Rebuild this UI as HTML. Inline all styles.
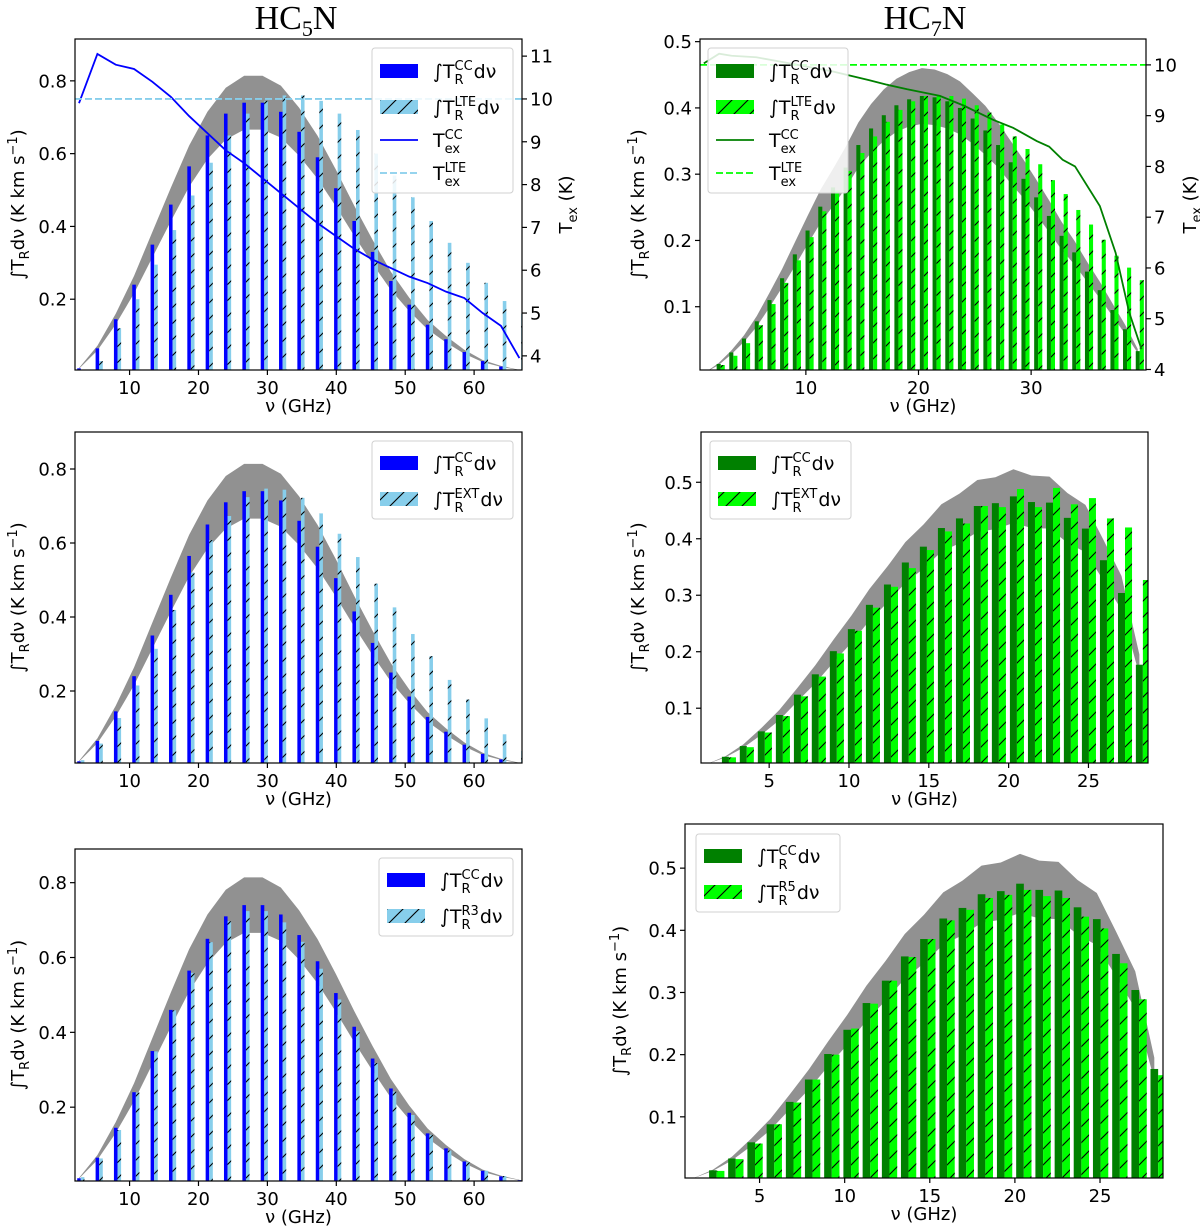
<!DOCTYPE html>
<html><head><meta charset="utf-8"><style>
html,body{margin:0;padding:0;background:#fff;}
svg{display:block;font-family:"DejaVu Sans","Liberation Sans",sans-serif;}
</style></head><body>
<svg id="fig" width="1200" height="1227" viewBox="0 0 1200 1227" xmlns="http://www.w3.org/2000/svg">
<defs>
<pattern id="hatch" patternUnits="userSpaceOnUse" width="16" height="16">
<line x1="0" y1="16" x2="16" y2="0" stroke="#000" stroke-width="1.1"/>
<line x1="-3" y1="3" x2="3" y2="-3" stroke="#000" stroke-width="1.1"/>
<line x1="13" y1="19" x2="19" y2="13" stroke="#000" stroke-width="1.1"/>
</pattern>
</defs>
<text x="296" y="29" text-anchor="middle" font-family="Liberation Serif, serif" font-size="34">HC<tspan font-size="22" dy="7">5</tspan><tspan dy="-7">N</tspan></text>
<text x="925" y="29" text-anchor="middle" font-family="Liberation Serif, serif" font-size="34">HC<tspan font-size="22" dy="7">7</tspan><tspan dy="-7">N</tspan></text>
</svg>
<script>
// ---------- data ----------
const freq5 = [2.66,5.33,7.99,10.65,13.31,15.98,18.64,21.30,23.96,26.63,29.29,31.95,34.61,37.28,39.94,42.60,45.27,47.93,50.59,53.25,55.92,58.58,61.24,63.90,66.57];
const cc5 = [0.01,0.065,0.145,0.24,0.35,0.46,0.565,0.65,0.71,0.74,0.74,0.715,0.66,0.59,0.505,0.415,0.33,0.25,0.185,0.13,0.09,0.055,0.03,0.015,0.005];
const upper5 = [0.011,0.072,0.16,0.264,0.385,0.506,0.622,0.715,0.781,0.814,0.814,0.787,0.726,0.649,0.556,0.457,0.363,0.275,0.204,0.143,0.099,0.061,0.033,0.017,0.006];
const lower5 = [0.009,0.059,0.131,0.216,0.315,0.414,0.509,0.585,0.639,0.666,0.666,0.644,0.594,0.531,0.455,0.374,0.297,0.225,0.167,0.117,0.081,0.05,0.027,0.014,0.005];
const lte5 = [0.005,0.03,0.12,0.2,0.295,0.39,0.485,0.575,0.65,0.71,0.745,0.76,0.76,0.745,0.71,0.665,0.6,0.54,0.48,0.415,0.355,0.3,0.245,0.195,0.16];
const ext5 = [0.013,0.058,0.127,0.215,0.314,0.419,0.52,0.608,0.673,0.724,0.747,0.744,0.722,0.68,0.625,0.562,0.49,0.426,0.354,0.294,0.23,0.177,0.126,0.083,0.038];
const r3 = [0.013,0.063,0.139,0.239,0.349,0.459,0.559,0.641,0.697,0.724,0.724,0.694,0.642,0.57,0.488,0.403,0.318,0.242,0.179,0.126,0.084,0.053,0.03,0.016,0.005];
const texCC5 = [9.9,11.05,10.8,10.7,10.4,10.05,9.6,9.2,8.8,8.5,8.15,7.8,7.45,7.1,6.8,6.5,6.25,6.05,5.85,5.7,5.5,5.35,5.0,4.7,3.95];
const texLTE5 = 10;

const freq7 = [2.26,3.38,4.51,5.64,6.77,7.89,9.02,10.15,11.28,12.41,13.53,14.66,15.79,16.92,18.04,19.17,20.30,21.43,22.56,23.68,24.81,25.94,27.07,28.19,29.32,30.45,31.58,32.71,33.83,34.96,36.09,37.22,38.34,39.47];
const cc7 = [0.0136,0.031,0.052,0.078,0.110,0.143,0.179,0.215,0.251,0.28,0.31,0.344,0.369,0.389,0.404,0.413,0.418,0.416,0.41,0.40,0.384,0.366,0.344,0.318,0.293,0.265,0.237,0.207,0.182,0.153,0.125,0.095,0.066,0.033];
const upper7 = [0.015,0.034,0.057,0.086,0.121,0.157,0.197,0.237,0.276,0.308,0.341,0.378,0.406,0.428,0.444,0.454,0.46,0.458,0.451,0.44,0.422,0.403,0.378,0.35,0.322,0.292,0.261,0.228,0.2,0.168,0.138,0.105,0.073,0.036];
const lower7 = [0.012,0.028,0.047,0.07,0.099,0.129,0.161,0.194,0.226,0.252,0.279,0.31,0.332,0.35,0.364,0.372,0.376,0.374,0.369,0.36,0.346,0.329,0.31,0.286,0.264,0.239,0.213,0.186,0.164,0.138,0.113,0.086,0.059,0.03];
const lte7 = [0.012,0.026,0.045,0.072,0.104,0.136,0.17,0.205,0.244,0.275,0.305,0.332,0.357,0.379,0.397,0.41,0.418,0.419,0.418,0.414,0.404,0.393,0.375,0.357,0.338,0.315,0.291,0.27,0.246,0.224,0.201,0.177,0.159,0.14];
const texFreq7 = [0.94,2.3,3.4,5.6,8.1,12.4,15.6,17.2,19.0,21.9,24.0,26.6,28.4,30.5,31.6,32.8,33.9,36.1,37.5,38.7,39.8];
const texCC7 = [10.03,10.22,10.18,10.15,10.05,9.87,9.7,9.61,9.52,9.39,9.2,8.92,8.76,8.5,8.39,8.13,8.0,7.22,6.3,5.13,4.4];
const texLTE7 = 10;

const freq7b = [2.26,3.38,4.51,5.64,6.77,7.89,9.02,10.15,11.28,12.41,13.53,14.66,15.79,16.92,18.04,19.17,20.30,21.43,22.56,23.68,24.81,25.94,27.07,28.19];
const cc7b = [0.014,0.033,0.059,0.088,0.124,0.16,0.201,0.24,0.283,0.319,0.358,0.386,0.419,0.436,0.458,0.463,0.475,0.465,0.464,0.437,0.418,0.362,0.304,0.177];
const upper7b = [0.015,0.036,0.065,0.097,0.136,0.176,0.221,0.264,0.311,0.351,0.394,0.425,0.461,0.48,0.504,0.509,0.523,0.512,0.51,0.481,0.46,0.398,0.334,0.195];
const lower7b = [0.013,0.03,0.053,0.079,0.112,0.144,0.181,0.216,0.255,0.287,0.322,0.347,0.377,0.392,0.412,0.417,0.428,0.419,0.418,0.393,0.376,0.326,0.274,0.159];
const ext7 = [0.013,0.031,0.057,0.086,0.121,0.156,0.197,0.237,0.278,0.315,0.348,0.38,0.413,0.427,0.458,0.456,0.488,0.456,0.49,0.461,0.472,0.436,0.42,0.327];
const r5 = [0.013,0.032,0.057,0.088,0.123,0.16,0.2,0.242,0.282,0.319,0.357,0.386,0.416,0.433,0.452,0.457,0.465,0.455,0.452,0.422,0.403,0.347,0.289,0.167];

const xt5 = [10,20,30,40,50,60];
const yt5 = [0.2,0.4,0.6,0.8];
const y2t5 = [4,5,6,7,8,9,10,11];
const xt7 = [10,20,30];
const yt7 = [0.1,0.2,0.3,0.4,0.5];
const y2t7 = [4,5,6,7,8,9,10];
const xt7b = [5,10,15,20,25];

// ---------- drawing ----------
const NS = 'http://www.w3.org/2000/svg';
const svg = document.getElementById('fig');
function mk(tag, attrs, parent){
  const e = document.createElementNS(NS, tag);
  for (const k in attrs) e.setAttribute(k, attrs[k]);
  (parent||svg).appendChild(e);
  return e;
}
const BLUE='#0000ff', SKY='#87ceeb', DG='#008000', LIME='#00ff00', BAND='#919191';

function panel(p){
  const g = mk('g', {});
  
  
  const X = v => p.L + (v - p.xmin) / (p.xmax - p.xmin) * (p.R - p.L);
  const Y = v => p.B - (v - p.ymin) / (p.ymax - p.ymin) * (p.B - p.T);
  const Y2 = v => p.B - (v - p.y2min) / (p.y2max - p.y2min) * (p.B - p.T);
  const cid = 'clip-' + p.name;
  const cp = mk('clipPath', {id: cid}, g);
  mk('rect', {x:p.L, y:p.T, width:p.R-p.L, height:p.B-p.T}, cp);
  const plot = mk('g', {'clip-path':'url(#'+cid+')'}, g);
  let pts = [];
  pts.push(X(p.bandStart)+','+Y(0));
  for (let i=0;i<p.freq.length;i++) pts.push(X(p.freq[i])+','+Y(p.upper[i]));
  for (let i=p.freq.length-1;i>=0;i--) pts.push(X(p.freq[i])+','+Y(p.lower[i]));
  const band = mk('polygon', {points: pts.join(' '), fill: BAND}, plot);
  
  
  const bw = p.bw * (p.R-p.L)/(p.xmax-p.xmin);
  for (let i=0;i<p.freq.length;i++){
    const x = X(p.freq[i]);
    const b1 = mk('rect', {x: x-bw/2, y: Y(p.cc[i]), width: bw, height: Y(p.ymin)-Y(p.cc[i])+2, fill: p.c1}, plot);
    
    
    const h = Y(p.ymin)-Y(p.alt[i])+2;
    const b2 = mk('rect', {x: x+bw/2, y: Y(p.alt[i]), width: bw, height: h, fill: p.c2}, plot);
    
    
    mk('rect', {x: x+bw/2, y: Y(p.alt[i]), width: bw, height: h, fill: 'url(#hatch)'}, plot);
  }
  drawLegend(g, p);
  if (p.tex){
    const lp = p.texFreq.map((f,i)=>X(f)+','+Y2(p.tex[i])).join(' ');
    const l = mk('polyline', {points: lp, fill:'none', stroke: p.c1, 'stroke-width': 1.8}, plot);
    
    
    const d = mk('line', {x1:p.L, x2:p.R, y1:Y2(p.texLTE), y2:Y2(p.texLTE), stroke: p.c2, 'stroke-width':1.8, 'stroke-dasharray':'7,3'}, plot);
    
    
  }
  mk('rect', {x:p.L, y:p.T, width:p.R-p.L, height:p.B-p.T, fill:'none', stroke:'#000', 'stroke-width':1.2}, g);
  p.xt.forEach(v=>{
    const x=X(v);
    mk('line',{x1:x,x2:x,y1:p.B,y2:p.B+5,stroke:'#000','stroke-width':1.2},g);
    const t=mk('text',{x:x,y:p.B+24,'text-anchor':'middle','font-size':18},g);
    t.textContent=v;
    
    
  });
  p.yt.forEach(v=>{
    const y=Y(v);
    mk('line',{x1:p.L-5,x2:p.L,y1:y,y2:y,stroke:'#000','stroke-width':1.2},g);
    const t=mk('text',{x:p.L-8,y:y+6.5,'text-anchor':'end','font-size':18},g);
    t.textContent=v.toFixed(1);
    
    
  });
  if (p.y2t){
    p.y2t.forEach(v=>{
      const y=Y2(v);
      mk('line',{x1:p.R,x2:p.R+5,y1:y,y2:y,stroke:'#000','stroke-width':1.2},g);
      const t=mk('text',{x:p.R+8,y:y+6.5,'font-size':18},g);
      t.textContent=v;
      
      
    });
    const t=mk('text',{transform:'translate('+(p.R+50)+','+((p.T+p.B)/2)+') rotate(-90)','text-anchor':'middle','font-size':18},g);
    t.innerHTML='T<tspan font-size="13" dy="5">ex</tspan><tspan dy="-5"> (K)</tspan>';
    
    
  }
  const xl=mk('text',{x:(p.L+p.R)/2,y:p.B+42,'text-anchor':'middle','font-size':18},g);
  xl.textContent='ν (GHz)';
  
  
  const yl=mk('text',{transform:'translate('+(p.ylx)+','+((p.T+p.B)/2)+') rotate(-90)','text-anchor':'middle','font-size':18},g);
  yl.innerHTML='∫T<tspan font-size="13" dy="5">R</tspan><tspan dy="-5">dν (K km s</tspan><tspan font-size="13" dy="-7">−1</tspan><tspan dy="7">)</tspan>';
  
  
}

function richLabel(parent, x, y, main, sup, sub, tail){
  const t1 = mk('text',{x:x,y:y+7,'font-size':19},parent);
  t1.textContent = main;
  const w = t1.getComputedTextLength();
  const s1 = mk('text',{x:x+w,y:y-1,'font-size':13},parent);
  s1.textContent = sup;
  const s2 = mk('text',{x:x+w,y:y+13,'font-size':13},parent);
  s2.textContent = sub;
  const w2 = Math.max(s1.getComputedTextLength(), s2.getComputedTextLength());
  if (tail){
    const t2 = mk('text',{x:x+w+w2+1,y:y+7,'font-size':19},parent);
    t2.textContent = tail;
  }
}

function drawLegend(g, p){
  const lg = mk('g',{},g);
  
  
  const lx=p.leg[0], ly=p.leg[1];
  const h = p.tex ? 145 : 78;
  const wd = p.leg[2];
  mk('rect',{x:lx,y:ly,width:wd,height:h,rx:3,fill:'#fff','fill-opacity':0.85,stroke:'#d0d0d0','stroke-width':1},lg);
  const rows = p.tex ? [23,59,92,125] : [22,58];
  const px = lx+8, tx = lx+61;
  let e = mk('g',{},lg);
  
  
  mk('rect',{x:px,y:ly+rows[0]-7,width:38,height:14,fill:p.c1},e);
  richLabel(e, tx, ly+rows[0], '∫T', 'CC', 'R', 'dν');
  e = mk('g',{},lg);
  
  
  mk('rect',{x:px,y:ly+rows[1]-7,width:38,height:14,fill:p.c2},e);
  mk('rect',{x:px,y:ly+rows[1]-7,width:38,height:14,fill:'url(#hatch)'},e);
  richLabel(e, tx, ly+rows[1], '∫T', p.altLabel, 'R', 'dν');
  if (p.tex){
    e = mk('g',{},lg);
    
    
    mk('line',{x1:px,x2:px+38,y1:ly+rows[2],y2:ly+rows[2],stroke:p.c1,'stroke-width':1.8},e);
    richLabel(e, tx, ly+rows[2], 'T', 'CC', 'ex', '');
    e = mk('g',{},lg);
    
    
    mk('line',{x1:px,x2:px+38,y1:ly+rows[3],y2:ly+rows[3],stroke:p.c2,'stroke-width':1.8,'stroke-dasharray':'7,3'},e);
    richLabel(e, tx, ly+rows[3], 'T', 'LTE', 'ex', '');
  }
}

panel({name:'panel-hc5n-lte',L:75,R:522,T:39,B:370,xmin:2.08,xmax:66.95,ymin:0.0055,ymax:0.915,y2min:3.67,y2max:11.4,
  freq:freq5,cc:cc5,alt:lte5,upper:upper5,lower:lower5,bandStart:2.3,bw:0.52,c1:BLUE,c2:SKY,altName:'lte',altLabel:'LTE',
  tex:texCC5,texFreq:freq5,texLTE:texLTE5,xt:xt5,yt:yt5,y2t:y2t5,leg:[372,48,141],ylx:24});
panel({name:'panel-hc7n-lte',L:700,R:1146,T:39,B:370,xmin:0.6,xmax:40.2,ymin:0.0045,ymax:0.504,y2min:3.99,y2max:10.51,
  freq:freq7,cc:cc7,alt:lte7,upper:upper7,lower:lower7,bandStart:1.0,bw:0.36,c1:DG,c2:LIME,altName:'lte',altLabel:'LTE',
  tex:texCC7,texFreq:texFreq7,texLTE:texLTE7,xt:xt7,yt:yt7,y2t:y2t7,leg:[708,48,140],ylx:644});
panel({name:'panel-hc5n-ext',L:75,R:522,T:432,B:763,xmin:2.08,xmax:66.95,ymin:0.0054,ymax:0.9,
  freq:freq5,cc:cc5,alt:ext5,upper:upper5,lower:lower5,bandStart:2.3,bw:0.52,c1:BLUE,c2:SKY,altName:'ext',altLabel:'EXT',
  xt:xt5,yt:yt5,leg:[372,441,141],ylx:24});
panel({name:'panel-hc7n-ext',L:701,R:1148,T:432,B:763,xmin:0.73,xmax:28.73,ymin:0.003,ymax:0.589,
  freq:freq7b,cc:cc7b,alt:ext7,upper:upper7b,lower:lower7b,bandStart:1.0,bw:0.44,c1:DG,c2:LIME,altName:'ext',altLabel:'EXT',
  xt:xt7b,yt:yt7,leg:[710,441,141],ylx:644});
panel({name:'panel-hc5n-r3',L:75,R:522,T:849,B:1181,xmin:2.08,xmax:66.95,ymin:0.0027,ymax:0.89,
  freq:freq5,cc:cc5,alt:r3,upper:upper5,lower:lower5,bandStart:2.3,bw:0.52,c1:BLUE,c2:SKY,altName:'r3',altLabel:'R3',
  xt:xt5,yt:yt5,leg:[379,858,134],ylx:24});
panel({name:'panel-hc7n-r5',L:685,R:1163,T:824,B:1178,xmin:0.62,xmax:28.7,ymin:0.0016,ymax:0.571,
  freq:freq7b,cc:cc7b,alt:r5,upper:upper7b,lower:lower7b,bandStart:1.0,bw:0.45,c1:DG,c2:LIME,altName:'r5',altLabel:'R5',
  xt:xt7b,yt:yt7,leg:[696,834,144],ylx:626});
</script>
</body></html>
